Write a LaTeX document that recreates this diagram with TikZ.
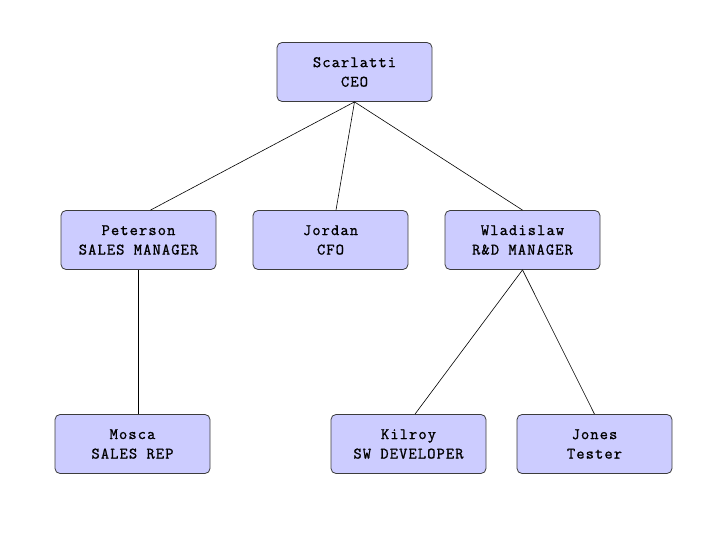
\documentclass[tikz,border=0pt]{standalone}
\usepackage{fontspec}
\newfontfamily\boxfont{Latin Modern Mono}[LetterSpace=7,FakeBold=1.2]
\definecolor{boxfill}{RGB}{204,204,255}
\definecolor{boxline}{RGB}{60,60,60}
\begin{document}
\begin{tikzpicture}[x=1pt,y=-1pt,
  person/.style={draw=boxline, line width=0.8pt, fill=boxfill, rounded corners=5pt,
    minimum width=155pt, minimum height=59pt, inner sep=0pt, align=center,
    font=\fontsize{16}{19.5}\selectfont\boxfont},
  link/.style={draw=black, line width=0.6pt}]
\useasboundingbox (0,0) rectangle (720,540);
\node[person] (ceo) at (354.5,72) {Scarlatti\\CEO};
\node[person] (pet) at (138.5,240) {Peterson\\SALES MANAGER};
\node[person] (jor) at (330.5,240) {Jordan\\CFO};
\node[person] (wla) at (522.5,240) {Wladislaw\\R\&D MANAGER};
\node[person] (mos) at (132.5,444) {Mosca\\SALES REP};
\node[person] (kil) at (408.5,444) {Kilroy\\SW DEVELOPER};
\node[person] (jon) at (594.5,444) {Jones\\Tester};
\draw[link] (ceo.south) -- ([xshift=12pt]pet.north);
\draw[link] (ceo.south) -- ([xshift=5.5pt]jor.north);
\draw[link] (ceo.south) -- (wla.north);
\draw[link] (pet.south) -- (pet.south |- mos.north);
\draw[link] (wla.south) -- ([xshift=6.5pt]kil.north);
\draw[link] (wla.south) -- (jon.north);
\end{tikzpicture}
\end{document}
